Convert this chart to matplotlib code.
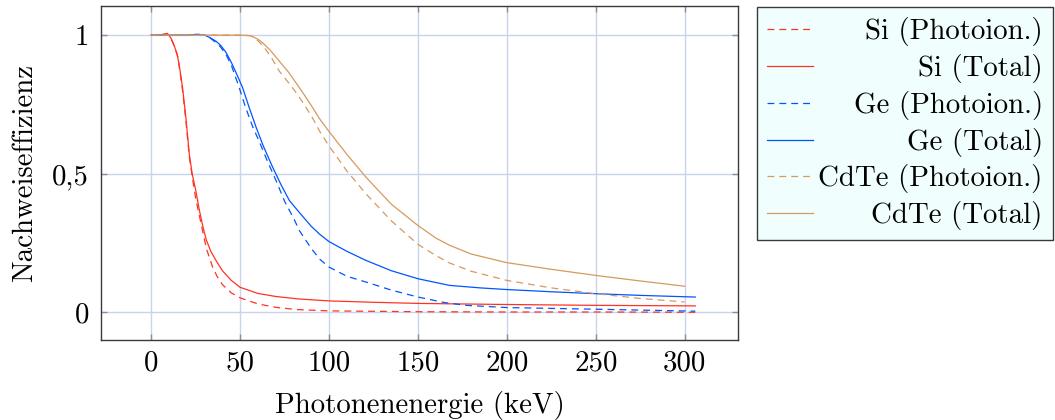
import matplotlib
matplotlib.use("Agg")
import matplotlib.pyplot as plt

# ---------------- data ----------------
si_photo_x = [0, 5, 9, 11, 13, 15, 17.6, 19.5, 21.4, 23.5, 25, 27, 29, 31, 34.5, 37, 40, 45, 50, 60, 70, 81, 100, 150, 200, 250, 306]
si_photo_y = [1.0, 1.0, 1.006, 0.99, 0.96, 0.92, 0.80, 0.69, 0.56, 0.47, 0.41, 0.35, 0.29, 0.23, 0.163, 0.13, 0.10, 0.07, 0.052, 0.03, 0.018, 0.01, 0.005, 0.002, 0.001, 0.001, 0.0]

si_total_x = [0, 5, 9, 11, 13, 14.6, 16, 17.6, 19.5, 21.4, 23, 25, 27, 29, 31, 33.5, 36.4, 40, 45, 50, 60, 70, 83, 100, 125, 150, 200, 250, 306]
si_total_y = [1.0, 1.0, 1.006, 0.99, 0.96, 0.93, 0.88, 0.81, 0.70, 0.57, 0.50, 0.44, 0.37, 0.31, 0.26, 0.22, 0.187, 0.15, 0.115, 0.09, 0.068, 0.057, 0.048, 0.041, 0.036, 0.032, 0.028, 0.025, 0.023]

ge_photo_x = [0, 20, 26, 30, 33, 36, 39, 42, 45, 49.5, 53, 57, 60.8, 65, 70.2, 75, 80, 83.3, 90, 95, 100, 110, 120.8, 135, 150, 165, 177, 200, 250, 306]
ge_photo_y = [1.0, 1.0, 1.003, 1.0, 0.99, 0.975, 0.957, 0.93, 0.892, 0.81, 0.74, 0.67, 0.615, 0.55, 0.475, 0.40, 0.34, 0.295, 0.23, 0.19, 0.163, 0.13, 0.109, 0.08, 0.055, 0.035, 0.025, 0.017, 0.011, 0.004]

ge_total_x = [0, 20, 26, 30, 33, 36.4, 39, 42, 45, 48, 51.4, 55, 59, 63, 68.3, 73, 77.7, 83.3, 90, 95, 100, 110, 120.8, 135, 150, 167.7, 185, 200, 225, 250, 275, 300, 306]
ge_total_y = [1.0, 1.0, 1.003, 1.0, 0.991, 0.978, 0.963, 0.938, 0.902, 0.86, 0.81, 0.74, 0.667, 0.60, 0.523, 0.46, 0.403, 0.36, 0.31, 0.28, 0.255, 0.22, 0.187, 0.15, 0.121, 0.097, 0.088, 0.082, 0.074, 0.067, 0.061, 0.056, 0.055]

cdte_photo_x = [0, 50, 56, 60, 63, 67, 72, 77, 81.4, 86, 90.8, 95, 100, 110, 120.8, 135, 150, 160, 167.7, 180, 200, 225, 250, 275, 300]
cdte_photo_y = [1.0, 1.0, 0.998, 0.98, 0.96, 0.925, 0.87, 0.83, 0.793, 0.75, 0.70, 0.65, 0.60, 0.51, 0.427, 0.33, 0.245, 0.205, 0.178, 0.148, 0.115, 0.088, 0.067, 0.05, 0.037]

cdte_total_x = [0, 50, 56, 60, 62.7, 67, 72, 77, 81.4, 86, 90.8, 95, 100, 110, 120.8, 135, 150, 160, 167.7, 180, 200, 225, 250, 275, 300]
cdte_total_y = [1.0, 1.0, 0.998, 0.985, 0.972, 0.945, 0.906, 0.868, 0.828, 0.785, 0.738, 0.695, 0.652, 0.57, 0.487, 0.39, 0.313, 0.268, 0.242, 0.21, 0.179, 0.155, 0.133, 0.113, 0.094]

labels = ["Si (Photoion.)", "Si (Total)", "Ge (Photoion.)", "Ge (Total)",
          "CdTe (Photoion.)", "CdTe (Total)"]
x_ticks = [0, 50, 100, 150, 200, 250, 300]
x_ticklabels = ["0", "50", "100", "150", "200", "250", "300"]
y_ticks = [0, 0.5, 1]
y_ticklabels = ["0", "0,5", "1"]

# ---------------- style ----------------
plt.rcParams["font.family"] = "serif"
plt.rcParams["font.serif"] = ["cmr10", "DejaVu Serif"]
plt.rcParams["mathtext.fontset"] = "cm"
plt.rcParams["axes.formatter.use_mathtext"] = True

RED = "#ff3322"
BLUE = "#0055ff"
TAN = "#d69a5c"
FS = 20.8

fig = plt.figure(figsize=(10.55, 4.2), dpi=100)
ax = fig.add_axes([0.0962, 0.1905, 0.6033, 0.7952])

lw = 0.9
dash = (0, (5.5, 4))
series = [
    (si_photo_x, si_photo_y, RED, dash),
    (si_total_x, si_total_y, RED, "-"),
    (ge_photo_x, ge_photo_y, BLUE, dash),
    (ge_total_x, ge_total_y, BLUE, "-"),
    (cdte_photo_x, cdte_photo_y, TAN, dash),
    (cdte_total_x, cdte_total_y, TAN, "-"),
]
handles = []
for (xs, ys, c, ls), lab in zip(series, labels):
    h, = ax.plot(xs, ys, color=c, linestyle=ls, linewidth=lw, label=lab)
    handles.append(h)

ax.set_xlim(-28, 330)
ax.set_ylim(-0.1, 1.105)
ax.set_xticks(x_ticks)
ax.set_xticklabels(x_ticklabels)
ax.set_yticks(y_ticks)
ax.set_yticklabels(y_ticklabels)
ax.grid(True, color="#c8d4ec", linewidth=1.0)
ax.set_axisbelow(True)
ax.tick_params(direction="in", length=4, width=1, color="#8a8f99",
               top=True, right=True, labelsize=FS)
ax.tick_params(axis="x", pad=7)
ax.tick_params(axis="y", pad=9)
for s in ax.spines.values():
    s.set_color("#3a3a3a")
    s.set_linewidth(1.0)

ax.set_xlabel("Photonenenergie (keV)", fontsize=FS, labelpad=11)
ax.set_ylabel("Nachweiseffizienz", fontsize=FS, labelpad=10)

leg = fig.legend(handles=handles, labels=labels, loc="upper left",
                 bbox_to_anchor=(0.7175, 0.983), borderaxespad=0,
                 fontsize=FS, handlelength=1.58, handletextpad=0.2,
                 labelspacing=0.27, borderpad=0.35, fancybox=False,
                 framealpha=1.0, edgecolor="#3a3a3a", facecolor="#f0fffe")
leg.get_frame().set_linewidth(1.0)

# right-align legend texts (pgfplots style)
fig.canvas.draw()
r = fig.canvas.get_renderer()
rows = []
for col in leg._legend_handle_box.get_children():
    rows.extend(col.get_children())
maxw = max(row.get_bbox(r).width for row in rows)
for row in rows:
    row.mode = "expand"
    row.width = maxw

fig.savefig("out.png", dpi=100)
